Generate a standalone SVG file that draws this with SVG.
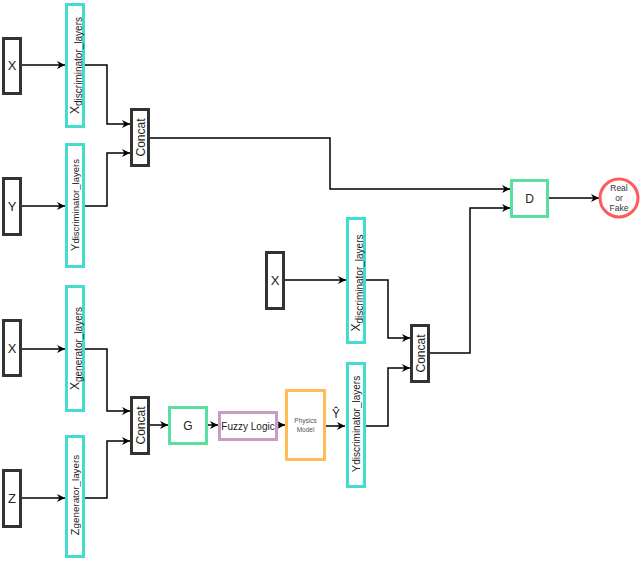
<svg xmlns="http://www.w3.org/2000/svg" width="640" height="562" viewBox="0 0 640 562">
<defs>
<marker id="arr" viewBox="0 0 10 10" refX="10" refY="5" markerWidth="8" markerHeight="8" markerUnits="userSpaceOnUse" orient="auto">
<path d="M0,0 L10,5 L0,10 L3,5 Z" fill="#000"/>
</marker>
<style>
text{font-family:"Liberation Sans",Arial,sans-serif;fill:#222}
.blk{fill:#fff;stroke:#333;stroke-width:3}
.tq{fill:#fff;stroke:#42DCD0;stroke-width:3}
.gr{fill:#fff;stroke:#5ADF9E;stroke-width:3}
.fz{fill:#fff;stroke:#C99CC6;stroke-width:3}
.ph{fill:#fff;stroke:#FFBC57;stroke-width:3}
.rd{fill:#fff;stroke:#FF5A5A;stroke-width:3}
.c{fill:none;stroke:#000;stroke-width:1.5;marker-end:url(#arr)}
.t12{font-size:12px}
.t13{font-size:13px}
</style>
</defs>
<rect width="640" height="562" fill="#fff"/>
<g id="connectors">
<path class="c" d="M22,65 H65"/>
<path class="c" d="M85,65 H107 V124 H130"/>
<path class="c" d="M22,206 H65"/>
<path class="c" d="M85,206 H107 V153 H130"/>
<path class="c" d="M150,138 H330 V189 H510"/>
<path class="c" d="M22,349 H65"/>
<path class="c" d="M85,349 H107 V411 H130"/>
<path class="c" d="M22,498 H65"/>
<path class="c" d="M85,498 H107 V441 H130"/>
<path class="c" d="M150,425 H168"/>
<path class="c" d="M208,425 H218"/>
<path class="c" d="M278,425 H285"/>
<path class="c" d="M326,426 H345"/>
<path class="c" d="M285,280 H346"/>
<path class="c" d="M366,280 H388 V338 H410"/>
<path class="c" d="M366,426 H388 V368 H410"/>
<path class="c" d="M430,353 H470 V208 H510"/>
<path class="c" d="M549,198 H599"/>
</g>
<g id="x1"><rect class="blk" x="3.5" y="38.5" width="17" height="55"/><text class="t13" x="12" y="70" text-anchor="middle">X</text></g>
<g id="y1"><rect class="blk" x="3.5" y="178.5" width="17" height="56"/><text class="t13" x="12" y="211" text-anchor="middle">Y</text></g>
<g id="x2"><rect class="blk" x="3.5" y="320.5" width="17" height="55"/><text class="t13" x="12" y="353" text-anchor="middle">X</text></g>
<g id="z1"><rect class="blk" x="3.5" y="470.5" width="17" height="56"/><text class="t13" x="12" y="503" text-anchor="middle">Z</text></g>
<g id="x3"><rect class="blk" x="266.5" y="252.5" width="17" height="56"/><text class="t13" x="275" y="285" text-anchor="middle">X</text></g>

<g id="xdisc1"><rect class="tq" x="66.5" y="4.5" width="17" height="122"/>
<text transform="translate(79,65.5) rotate(-90)" text-anchor="middle" font-size="12">X<tspan font-size="10" dy="3">discriminator_layers</tspan></text></g>
<g id="ydisc1"><rect class="tq" x="66.5" y="144.5" width="17" height="122"/>
<text transform="translate(79,205) rotate(-90)" text-anchor="middle" font-size="9.5"><tspan font-size="11">Y</tspan>discriminator_layers</text></g>
<g id="xgen"><rect class="tq" x="66.5" y="286.5" width="17" height="124"/>
<text transform="translate(79,348.5) rotate(-90)" text-anchor="middle" font-size="12">X<tspan font-size="10" dy="3">generator_layers</tspan></text></g>
<g id="zgen"><rect class="tq" x="66.5" y="436.5" width="17" height="120"/>
<text transform="translate(79,495) rotate(-90)" text-anchor="middle" font-size="9.8"><tspan font-size="11">Z</tspan>generator_layers</text></g>
<g id="xdisc2"><rect class="tq" x="347.5" y="218.5" width="17" height="124"/>
<text transform="translate(360,283) rotate(-90)" text-anchor="middle" font-size="12">X<tspan font-size="10" dy="3">discriminator_layers</tspan></text></g>
<g id="ydisc2"><rect class="tq" x="347.5" y="363.5" width="17" height="123"/>
<text transform="translate(360,424) rotate(-90)" text-anchor="middle" font-size="10"><tspan font-size="11">Y</tspan>discriminator_layers</text></g>

<g id="concat1"><rect class="blk" x="131.5" y="109.5" width="17" height="56"/><text class="t12" transform="translate(144.5,137.5) rotate(-90)" text-anchor="middle">Concat</text></g>
<g id="concat2"><rect class="blk" x="131.5" y="397.5" width="17" height="56"/><text class="t12" transform="translate(144.5,425.5) rotate(-90)" text-anchor="middle">Concat</text></g>
<g id="concat3"><rect class="blk" x="411.5" y="325.5" width="17" height="56"/><text class="t12" transform="translate(424.5,353.5) rotate(-90)" text-anchor="middle">Concat</text></g>

<g id="g"><rect class="gr" x="169.5" y="407.5" width="37" height="36"/><text class="t12" x="188" y="430" text-anchor="middle">G</text></g>
<g id="fuzzy"><rect class="fz" x="219.5" y="412.5" width="57" height="27"/><text x="248" y="429.5" text-anchor="middle" font-size="10">Fuzzy Logic</text></g>
<g id="physics"><rect class="ph" x="286.5" y="390.5" width="38" height="69"/><text x="305.5" y="423" text-anchor="middle" font-size="6.5" style="fill:#555">Physics</text><text x="305.5" y="432" text-anchor="middle" font-size="6.5" style="fill:#555">Model</text></g>
<g id="yhat"><text x="336" y="418" text-anchor="middle" font-size="12">Ŷ</text></g>
<g id="d"><rect class="gr" x="511.5" y="180.5" width="36" height="36"/><text class="t12" x="529.5" y="203" text-anchor="middle">D</text></g>
<g id="realfake"><circle class="rd" cx="619" cy="198" r="19"/>
<text x="619" y="191" text-anchor="middle" font-size="8.5" style="fill:#333">Real</text>
<text x="619" y="201" text-anchor="middle" font-size="8.5" style="fill:#333">or</text>
<text x="619" y="211" text-anchor="middle" font-size="8.5" style="fill:#333">Fake</text></g>
</svg>
